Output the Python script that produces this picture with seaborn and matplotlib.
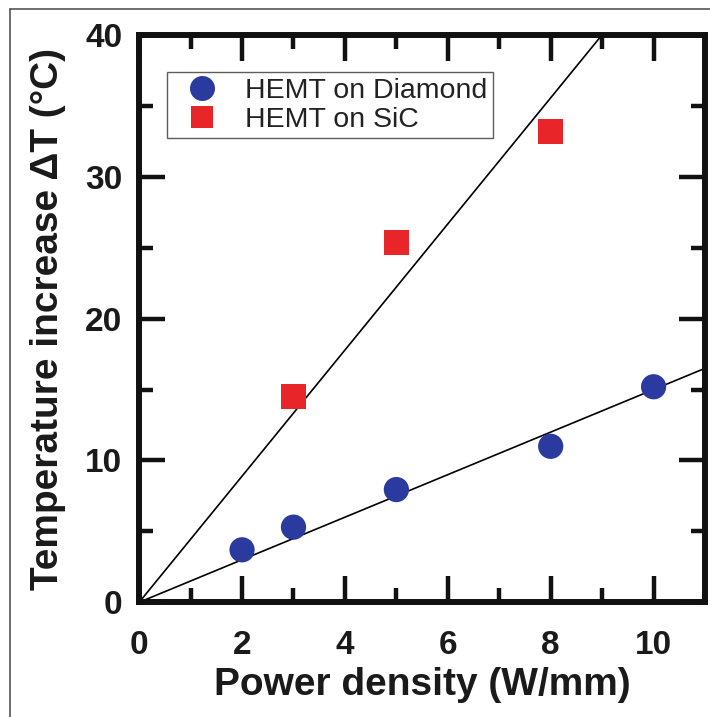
import numpy as np
import pandas as pd
import seaborn as sns
import matplotlib.pyplot as plt
from matplotlib.lines import Line2D

# values
power_diamond = [2, 3, 5, 8, 10]
temp_diamond = [3.7, 5.3, 7.95, 11.0, 15.2]
power_sic = [3, 5, 8]
temp_sic = [14.5, 25.35, 33.2]
labels = ["HEMT on Diamond", "HEMT on SiC"]
colors = ["#2a3a9e", "#e8262a"]
x_ticks = [0, 2, 4, 6, 8, 10]
y_ticks = [0, 10, 20, 30, 40]

df = pd.concat([
    pd.DataFrame({"power": power_diamond, "temp": temp_diamond, "device": labels[0]}),
    pd.DataFrame({"power": power_sic, "temp": temp_sic, "device": labels[1]}),
])

# least-squares fit through the origin for each device
fit_x = np.array([0, 11])
fits = []
for name, g in df.groupby("device", sort=False):
    slope = (g.power * g.temp).sum() / (g.power ** 2).sum()
    fits.append(pd.DataFrame({"power": fit_x, "temp": slope * fit_x, "device": name}))
fit_df = pd.concat(fits)

sns.set_style("ticks")
plt.rcParams["font.family"] = ["Liberation Sans", "DejaVu Sans"]

fig = plt.figure(figsize=(7.1, 7.17), dpi=100)
ax = fig.add_axes([0.196, 0.160, 0.797, 0.791])

for name, g in fit_df.groupby("device", sort=False):
    sns.lineplot(data=g, x="power", y="temp", color="black", lw=1.2, ax=ax, legend=False, zorder=2)

sns.scatterplot(data=df, x="power", y="temp", hue="device", style="device",
                palette=colors, markers={labels[0]: "o", labels[1]: "s"},
                s=330, linewidth=0, ax=ax, zorder=3, legend=False)

ax.set_xlim(0, 11)
ax.set_ylim(0, 40)
ax.set_xticks(x_ticks)
ax.set_yticks(y_ticks)
ax.set_xticks(np.arange(1, 11, 2), minor=True)
ax.set_yticks(np.arange(5, 40, 10), minor=True)

for s in ax.spines.values():
    s.set_linewidth(4.3)
    s.set_color("#111111")
ax.tick_params(which="both", direction="in", top=True, right=True, width=3.2, color="#111111")
ax.tick_params(which="major", length=19)
ax.tick_params(which="minor", length=10)
ax.tick_params(axis="x", which="major", pad=20, labelsize=24)
ax.tick_params(axis="y", which="major", pad=12, labelsize=24)
for t in ax.get_xticklabels() + ax.get_yticklabels():
    t.set_fontweight("bold")
    t.set_color("#1a1a1a")

ax.set_xlabel("Power density (W/mm)", fontsize=28, fontweight="bold", color="#1a1a1a", labelpad=4)
ax.set_ylabel("Temperature increase \u0394T (\u00b0C)", fontsize=28, fontweight="bold", color="#1a1a1a", labelpad=14)

handles = [
    Line2D([], [], marker="o", ls="", color=colors[0], markersize=18, markeredgewidth=0),
    Line2D([], [], marker="s", ls="", color=colors[1], markersize=16, markeredgewidth=0),
]
leg = ax.legend(handles, labels, loc="upper left", bbox_to_anchor=(0.049, 0.935),
                borderaxespad=0, fontsize=20.5, frameon=True, fancybox=False,
                handletextpad=0.45, borderpad=0.2, labelspacing=0.1, handlelength=2.1)
leg.get_frame().set_edgecolor("#333333")
leg.get_frame().set_linewidth(1.0)
for t in leg.get_texts():
    t.set_color("#222222")

# thin outer border of the original figure (left and top edges)
fig.add_artist(Line2D([0.014, 0.014], [0, 0.987], color="#555555", lw=1.2))
fig.add_artist(Line2D([0.014, 1.0], [0.987, 0.987], color="#555555", lw=1.2))

fig.savefig("out.png", dpi=100)
